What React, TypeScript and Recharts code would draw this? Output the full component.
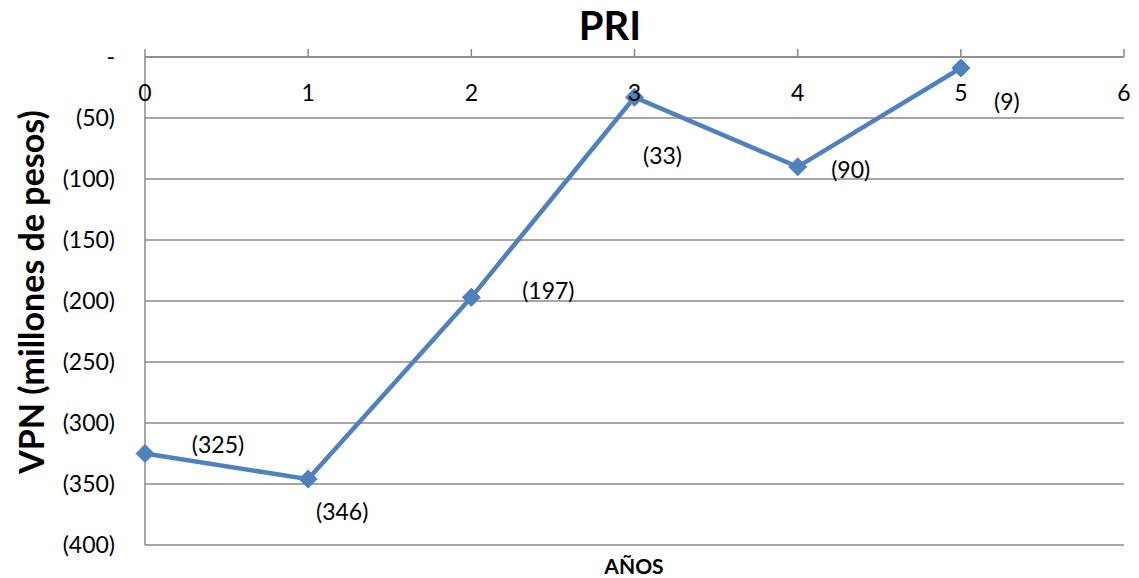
import { LineChart, Line, XAxis, YAxis, CartesianGrid, LabelList } from 'recharts';

// años y VPN (millones de pesos)
const years = [0, 1, 2, 3, 4, 5];
const vpn = [-325, -346, -197, -33, -90, -9];
const xTicks = [0, 1, 2, 3, 4, 5, 6];
const yTicks = [0, -50, -100, -150, -200, -250, -300, -350, -400];

const data = years.map((y, i) => ({ year: y, vpn: vpn[i] }));

const FONT = 'Lato, "Open Sans", sans-serif';
const BLUE = '#4F81BD';
const GRAY = '#8a8a8a';

// where each data label sits relative to its marker
const labelShift = [
  [73, -10],
  [34, 32],
  [77, -7],
  [28, 58],
  [53, 2],
  [46, 33],
];

const fmt = (v: number) => (v === 0 ? '-' : `(${Math.abs(v)})`);

const Diamond = (props: any) => {
  const { cx, cy } = props;
  if (cx == null || cy == null) return null;
  const r = 9;
  return (
    <polygon
      points={`${cx},${cy - r} ${cx + r},${cy} ${cx},${cy + r} ${cx - r},${cy}`}
      fill={BLUE}
      stroke={BLUE}
    />
  );
};

const PointLabel = (props: any) => {
  const { x, y, value, index } = props;
  const [dx, dy] = labelShift[index] || [40, 0];
  return (
    <text
      x={x + dx}
      y={y + dy}
      textAnchor="middle"
      dominantBaseline="central"
      fontSize={23}
      fontFamily={FONT}
      fill="#000"
    >
      {fmt(value)}
    </text>
  );
};

const TopTick = (props: any) => {
  const { x, y, payload } = props;
  return (
    <text
      x={x}
      y={y + 43}
      textAnchor="middle"
      dominantBaseline="central"
      fontSize={23}
      fontFamily={FONT}
      fill="#000"
    >
      {payload.value}
    </text>
  );
};

export default function App() {
  return (
    <div style={{ position: 'absolute', left: 0, top: 0, width: 1139, height: 578, background: '#fff' }}>
      <div
        style={{
          position: 'absolute',
          left: 610,
          top: 25,
          transform: 'translate(-50%, -50%)',
          fontFamily: FONT,
          fontWeight: 700,
          fontSize: 40,
          lineHeight: 1,
        }}
      >
        PRI
      </div>
      <div
        style={{
          position: 'absolute',
          left: 634,
          top: 565,
          transform: 'translate(-50%, -50%)',
          fontFamily: FONT,
          fontWeight: 700,
          fontSize: 21,
          lineHeight: 1,
        }}
      >
        AÑOS
      </div>
      <div
        style={{
          position: 'absolute',
          left: 31,
          top: 292,
          transform: 'translate(-50%, -50%) rotate(-90deg)',
          fontFamily: FONT,
          fontWeight: 700,
          fontSize: 34,
          lineHeight: 1,
          whiteSpace: 'nowrap',
        }}
      >
        VPN (millones de pesos)
      </div>
      <LineChart
        width={1139}
        height={578}
        data={data}
        margin={{ top: 27, right: 15, bottom: 33, left: 0 }}
      >
        <CartesianGrid vertical={false} stroke={GRAY} strokeWidth={1.5} horizontalValues={yTicks} />
        <XAxis
          dataKey="year"
          type="number"
          orientation="top"
          domain={[0, 6]}
          ticks={xTicks}
          height={30}
          tickSize={8}
          tickMargin={0}
          interval={0}
          stroke={GRAY}
          strokeWidth={1.5}
          tick={<TopTick />}
        />
        <YAxis
          type="number"
          domain={[-400, 0]}
          ticks={yTicks}
          width={145}
          tickLine={false}
          tickMargin={24}
          interval={0}
          stroke={GRAY}
          strokeWidth={1.5}
          tickFormatter={fmt}
          tick={{ fill: '#000', fontSize: 23, fontFamily: FONT }}
        />
        <Line
          dataKey="vpn"
          stroke={BLUE}
          strokeWidth={4.5}
          dot={<Diamond />}
          activeDot={false}
          isAnimationActive={false}
        >
          <LabelList dataKey="vpn" content={<PointLabel />} />
        </Line>
      </LineChart>
    </div>
  );
}
